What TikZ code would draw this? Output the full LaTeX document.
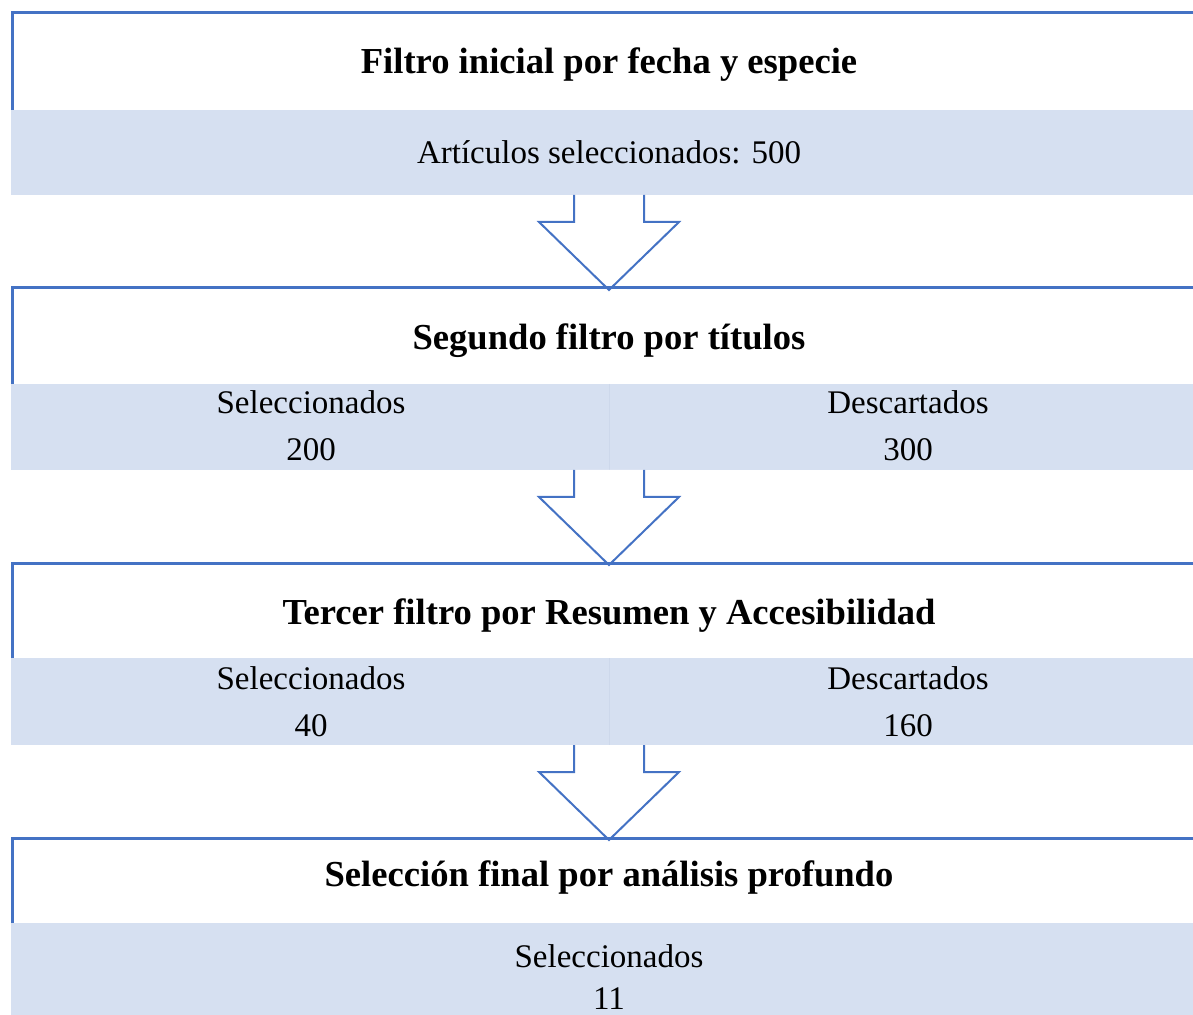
\documentclass[tikz,border=0pt]{standalone}
\usepackage{fontspec}
\setmainfont{Liberation Serif}
\usepackage{tikz}
\usetikzlibrary{positioning}

\definecolor{azul}{HTML}{4472C4}
\definecolor{banda}{HTML}{D6E0F1}
\definecolor{divisor}{HTML}{CDD8EB}

\begin{document}
\begin{tikzpicture}[x=0.5pt, y=-0.5pt,
  titulo/.style={anchor=base, inner sep=0pt, font=\bfseries\fontsize{18.3}{22}\selectfont},
  dato/.style={anchor=base, inner sep=0pt, font=\fontsize{16.5}{20}\selectfont},
  borde/.style={draw=azul, line width=1.5pt},
  flecha/.style={draw=azul, line width=1pt, fill=white, line join=miter}]
  \useasboundingbox (0,0) rectangle (1193,1015);

  % bandas
  \fill[banda] (11,110) rectangle (1193,195);
  \fill[banda] (11,384) rectangle (1193,470);
  \fill[banda] (11,658) rectangle (1193,745);
  \fill[banda] (11,923) rectangle (1193,1015);
  \draw[divisor, line width=0.5pt] (609,384) -- (609,470);
  \draw[divisor, line width=0.5pt] (609,658) -- (609,745);

  % puntos de las flechas
  \coordinate (s1) at (609,195);  \coordinate (t1) at (609,290);
  \coordinate (s2) at (609,470);  \coordinate (t2) at (609,565);
  \coordinate (s3) at (609,745);  \coordinate (t3) at (609,840);

  \draw[flecha] ([xshift=-17.5pt]s1) -- ([xshift=-17.5pt,yshift=-13.5pt]s1) -- ([xshift=-35pt,yshift=-13.5pt]s1) -- (t1) -- ([xshift=35pt,yshift=-13.5pt]s1) -- ([xshift=17.5pt,yshift=-13.5pt]s1) -- ([xshift=17.5pt]s1);
  \draw[flecha] ([xshift=-17.5pt]s2) -- ([xshift=-17.5pt,yshift=-13.5pt]s2) -- ([xshift=-35pt,yshift=-13.5pt]s2) -- (t2) -- ([xshift=35pt,yshift=-13.5pt]s2) -- ([xshift=17.5pt,yshift=-13.5pt]s2) -- ([xshift=17.5pt]s2);
  \draw[flecha] ([xshift=-17.5pt]s3) -- ([xshift=-17.5pt,yshift=-13.5pt]s3) -- ([xshift=-35pt,yshift=-13.5pt]s3) -- (t3) -- ([xshift=35pt,yshift=-13.5pt]s3) -- ([xshift=17.5pt,yshift=-13.5pt]s3) -- ([xshift=17.5pt]s3);

  % bordes superiores e izquierdos
  \draw[borde] (12,110) -- (12,13) -- (1193,13);
  \draw[borde] (12,384) -- (12,288) -- (1193,288);
  \draw[borde] (12,658) -- (12,563) -- (1193,563);
  \draw[borde] (12,923) -- (12,838) -- (1193,838);

  % textos
  \node[titulo] (f1) at (609,74)  {Filtro inicial por fecha y especie};
  \node[dato]   (a1) at (609,164) {Artículos seleccionados: 500};

  \node[titulo] (f2) at (609,350) {Segundo filtro por títulos};
  \node[dato]   (s2a) at (311,414) {Seleccionados};
  \node[dato]   (s2b) at (311,461) {200};
  \node[dato]   (d2a) at (908,414) {Descartados};
  \node[dato]   (d2b) at (908,461) {300};

  \node[titulo] (f3) at (609,624) {Tercer filtro por Resumen y Accesibilidad};
  \node[dato]   (s3a) at (311,689) {Seleccionados};
  \node[dato]   (s3b) at (311,736) {40};
  \node[dato]   (d3a) at (908,689) {Descartados};
  \node[dato]   (d3b) at (908,736) {160};

  \node[titulo] (f4) at (609,886) {Selección final por análisis profundo};
  \node[dato]   (s4a) at (609,967) {Seleccionados};
  \node[dato]   (s4b) at (609,1009) {11};
\end{tikzpicture}
\end{document}
